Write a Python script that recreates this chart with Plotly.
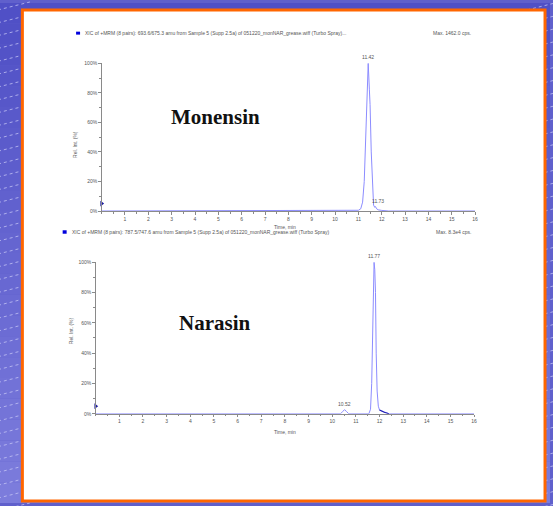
import plotly.graph_objects as go

W, H = 553, 506

# ---------------- data ----------------
mon_time = [0.0, 10.8, 11.0, 11.10, 11.18, 11.25,
            11.31, 11.36, 11.42, 11.47, 11.50, 11.55, 11.60, 11.65, 11.70, 11.73, 11.78, 11.85,
            12.0, 12.3, 16.0]
mon_int = [0.0, 0.0, 0.5, 1.5, 6, 20,
           50, 85, 100, 82, 72, 40, 14, 4, 2.5, 3, 1.5, 0.8,
           0.4, 0.0, 0.0]

nar_time = [0.0, 10.35, 10.45, 10.52, 10.60, 10.70, 11.55, 11.62, 11.67, 11.71, 11.74, 11.77,
            11.80, 11.83, 11.86, 11.90, 11.95, 12.0, 12.4, 16.0]
nar_int = [0.0, 0.0, 1.6, 2.7, 1.6, 0.0, 0.0, 3, 20, 60, 90, 100,
           95, 80, 40, 15, 5, 2.5, 0.0, 0.0]
nar_tail_time = [12.0, 12.1, 12.2, 12.3, 12.4]
nar_tail_int = [2.5, 1.6, 1.0, 0.5, 0.0]

mon_peaks = [11.42, 11.73]
mon_peak_int = [100, 3]
nar_peaks = [11.77, 10.52]
nar_peak_int = [100, 2.7]

x_ticks = list(range(1, 17))
y_ticks = [0, 20, 40, 60, 80, 100]
y_tick_text = ["0%", "20%", "40%", "60%", "80%", "100%"]

mon_header = "XIC of +MRM (8 pairs): 693.6/675.3 amu from Sample 5 (Supp 2.5a) of 051220_monNAR_grease.wiff (Turbo Spray)..."
mon_max = "Max. 1462.0 cps."
nar_header = "XIC of +MRM (8 pairs): 787.5/747.6 amu from Sample 5 (Supp 2.5a) of 051220_monNAR_grease.wiff (Turbo Spray)"
nar_max = "Max. 8.3e4 cps."

# ---------------- helpers ----------------
def px(x):
    return x / W

def py(y):
    return 1 - y / H

LINE = "#8c8cff"
AX = "#8a8a8a"
TXT = "#555555"
SMALL = dict(family="Liberation Sans, Arial", size=5, color=TXT)

fig = go.Figure()

fig.add_trace(go.Scatter(x=mon_time, y=mon_int, mode="lines", line=dict(color=LINE, width=1),
                         xaxis="x", yaxis="y", showlegend=False, hoverinfo="skip"))
fig.add_trace(go.Scatter(x=[0], y=[5], mode="markers", marker=dict(symbol="triangle-right", size=5, color="#1a1aa0"),
                         xaxis="x", yaxis="y", showlegend=False, cliponaxis=False))
fig.add_trace(go.Scatter(x=nar_time, y=nar_int, mode="lines", line=dict(color=LINE, width=1),
                         xaxis="x2", yaxis="y2", showlegend=False, hoverinfo="skip"))
fig.add_trace(go.Scatter(x=nar_tail_time, y=nar_tail_int, mode="lines", line=dict(color="#2020b0", width=1.2),
                         xaxis="x2", yaxis="y2", showlegend=False, hoverinfo="skip"))
fig.add_trace(go.Scatter(x=[0], y=[5], mode="markers", marker=dict(symbol="triangle-right", size=5, color="#1a1aa0"),
                         xaxis="x2", yaxis="y2", showlegend=False, cliponaxis=False))

# peak labels
for t, v in zip(mon_peaks, mon_peak_int):
    fig.add_annotation(x=t, y=v, xref="x", yref="y", text=f"{t:.2f}", showarrow=False,
                       yshift=6, xshift=3 if v < 50 else 0, font=SMALL)
for t, v in zip(nar_peaks, nar_peak_int):
    fig.add_annotation(x=t, y=v, xref="x2", yref="y2", text=f"{t:.2f}", showarrow=False,
                       yshift=6, font=SMALL)

axis_common = dict(showline=True, linecolor=AX, linewidth=1, showgrid=False, zeroline=False,
                   ticks="outside", tickcolor=AX, ticklen=2.5, tickwidth=1,
                   tickfont=dict(family="Liberation Sans, Arial", size=5, color=TXT), fixedrange=True)

fig.update_layout(
    width=W, height=H, autosize=False,
    margin=dict(l=0, r=0, t=0, b=0),
    paper_bgcolor="#6060cc", plot_bgcolor="rgba(0,0,0,0)",
    xaxis=dict(domain=[px(102.2), px(477.7)], range=[0, 16], anchor="y", tickvals=x_ticks,
               minor=dict(dtick=0.5, ticks="outside", ticklen=1.5, tickcolor=AX), **axis_common),
    yaxis=dict(domain=[py(210.5), py(61)], range=[0, 100], anchor="x", tickvals=y_ticks,
               ticktext=y_tick_text, minor=dict(dtick=10, ticks="outside", ticklen=1.5, tickcolor=AX), **axis_common),
    xaxis2=dict(domain=[px(96.2), px(476.7)], range=[0, 16], anchor="y2", tickvals=x_ticks,
                minor=dict(dtick=0.5, ticks="outside", ticklen=1.5, tickcolor=AX), **axis_common),
    yaxis2=dict(domain=[py(415.7), py(262.3)], range=[0, 100], anchor="x2", tickvals=y_ticks,
                ticktext=y_tick_text, minor=dict(dtick=10, ticks="outside", ticklen=1.5, tickcolor=AX), **axis_common),
)

# ---------------- background decoration ----------------
shapes = []
nb = 24
c0 = (80, 80, 198)
c1 = (124, 124, 220)
for i in range(nb):
    f = i / (nb - 1)
    c = tuple(int(c0[k] + (c1[k] - c0[k]) * f) for k in range(3))
    shapes.append(dict(type="rect", xref="paper", yref="paper", x0=0, x1=1,
                       y0=py(H * (i + 1) / nb), y1=py(H * i / nb),
                       fillcolor=f"rgb{c}", line=dict(width=0), layer="below"))
for k in range(-2, 46):
    y0 = k * 13.0
    shapes.append(dict(type="line", xref="paper", yref="paper", x0=px(-2), y0=py(y0 + 7),
                       x1=px(30), y1=py(y0 - 1), line=dict(color="rgba(200,200,245,0.75)", width=1, dash="3px,3px"),
                       layer="below"))
    shapes.append(dict(type="line", xref="paper", yref="paper", x0=px(530), y0=py(y0 + 7),
                       x1=px(556), y1=py(y0 + 0.5), line=dict(color="rgba(200,200,245,0.75)", width=1, dash="3px,3px"),
                       layer="below"))
shapes.append(dict(type="rect", xref="paper", yref="paper", x0=px(22.5), x1=px(548), y0=py(504), y1=py(7),
                   fillcolor="white", line=dict(color="#ff6600", width=3), layer="below"))
shapes.append(dict(type="rect", xref="paper", yref="paper", x0=px(76.5), x1=px(80.5), y0=py(32), y1=py(29),
                   fillcolor="#0000dd", line=dict(width=0), layer="above"))
shapes.append(dict(type="rect", xref="paper", yref="paper", x0=px(63), x1=px(67), y0=py(233.5), y1=py(230),
                   fillcolor="#0000dd", line=dict(width=0), layer="above"))
fig.update_layout(shapes=shapes)

# ---------------- texts ----------------
def ann(x, y, text, font, xanchor="center", angle=0):
    fig.add_annotation(x=px(x), y=py(y), xref="paper", yref="paper", text=text, showarrow=False,
                       xanchor=xanchor, yanchor="middle", font=font, textangle=angle)

ann(83, 30.5, mon_header, SMALL, xanchor="left")
ann(476, 30.5, mon_max, SMALL, xanchor="right")
ann(70, 232, nar_header, SMALL, xanchor="left")
ann(476, 232, nar_max, SMALL, xanchor="right")
ann(287, 226.5, "Time, min", SMALL)
ann(287, 434.5, "Time, min", SMALL)
ann(76, 143, "Rel. Int. (%)", SMALL, angle=-90)
ann(71.5, 332, "Rel. Int. (%)", SMALL, angle=-90)

BIG = dict(family="Liberation Serif, Times New Roman", size=21, color="#111111")
ann(216.5, 115, "<b>Monensin</b>", BIG)
ann(216, 324, "<b>Narasin</b>", BIG)

fig.write_html("out.html", config={"displayModeBar": False, "staticPlot": True},
               post_script="document.body.style.margin='0';document.body.style.overflow='hidden';")
